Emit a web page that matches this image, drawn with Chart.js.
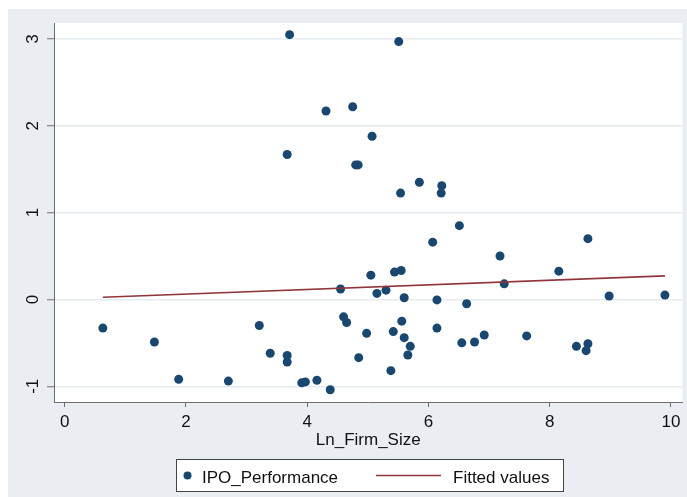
<!DOCTYPE html>
<html>
<head>
<meta charset="utf-8">
<script src="https://cdn.jsdelivr.net/npm/chart.js@4"></script>
<style>
html,body{margin:0;padding:0;background:#fff;}
canvas{display:block;}
</style>
</head>
<body>
<canvas id="c" width="687" height="497"></canvas>
<script>
// ---- data ----
const ipoX = [0.63,1.48,1.88,2.70,3.21,3.39,3.67,3.67,3.91,3.97,4.16,4.38,
  4.55,4.60,4.65,4.85,4.98,5.05,
  5.15,5.30,5.44,5.55,5.60,5.56,5.42,5.60,5.70,5.66,5.38,
  6.07,6.51,6.14,6.14,6.63,6.55,6.76,6.92,7.18,7.25,7.62,
  8.15,8.63,8.98,9.90,8.44,8.63,8.60,
  3.71,4.31,4.75,3.67,4.80,4.84,5.07,5.51,5.54,5.85,6.22,6.21];
const ipoY = [-0.33,-0.49,-0.92,-0.94,-0.30,-0.62,-0.645,-0.72,-0.96,-0.95,-0.93,-1.04,
  0.12,-0.20,-0.265,-0.67,-0.39,0.28,
  0.07,0.107,0.315,0.334,0.02,-0.25,-0.37,-0.44,-0.54,-0.64,-0.82,
  0.66,0.85,-0.005,-0.33,-0.05,-0.50,-0.49,-0.41,0.50,0.18,-0.42,
  0.326,0.70,0.04,0.05,-0.54,-0.51,-0.59,
  3.05,2.17,2.22,1.67,1.55,1.55,1.88,2.97,1.225,1.35,1.31,1.225];
const fittedX = [0.63, 9.90];
const fittedY = [0.026, 0.272];
const xTickValues = [0,2,4,6,8,10];
const yTickValues = [-1,0,1,2,3];
const xTitle = "Ln_Firm_Size";
const seriesNames = ["IPO_Performance", "Fitted values"];

const FONT = '"Liberation Sans", Arial, sans-serif';
const NAVY = '#1a476f';
const MAROON = '#90353b';

const bgPlugin = {
  id: 'bg',
  beforeDraw(chart) {
    const ctx = chart.ctx, a = chart.chartArea;
    ctx.save();
    ctx.fillStyle = '#ffffff';
    ctx.fillRect(0, 0, chart.width, chart.height);
    ctx.fillStyle = '#eaeef3';
    ctx.fillRect(8, 9, chart.width - 8, chart.height - 9);
    ctx.fillStyle = '#ffffff';
    ctx.fillRect(a.left, a.top, a.right - a.left, a.bottom - a.top);
    ctx.restore();
  },
  afterDraw(chart) {
    const ctx = chart.ctx, a = chart.chartArea;
    const ys = chart.scales.y;
    ctx.save();
    ctx.fillStyle = '#111';
    ctx.font = '17px ' + FONT;
    // rotated y tick labels
    ys.ticks.forEach(t => {
      const py = ys.getPixelForValue(t.value);
      ctx.save();
      ctx.translate(37.5, py);
      ctx.rotate(-Math.PI / 2);
      ctx.textAlign = 'center';
      ctx.textBaseline = 'alphabetic';
      ctx.fillText(t.label, 0, 0);
      ctx.restore();
    });
    // x title
    ctx.textAlign = 'center';
    ctx.textBaseline = 'alphabetic';
    ctx.fillText(xTitle, (a.left + a.right) / 2, 445);
    // legend
    const lx = 176, ly = 459, lw = 387, lh = 32;
    ctx.fillStyle = '#ffffff';
    ctx.fillRect(lx, ly, lw, lh);
    ctx.strokeStyle = '#444';
    ctx.lineWidth = 1;
    ctx.strokeRect(lx + 0.5, ly + 0.5, lw, lh);
    const my = 475.5;
    ctx.fillStyle = NAVY;
    ctx.beginPath();
    ctx.arc(187.5, my, 4, 0, Math.PI * 2);
    ctx.fill();
    ctx.strokeStyle = MAROON;
    ctx.lineWidth = 1.6;
    ctx.beginPath();
    ctx.moveTo(376, my);
    ctx.lineTo(441, my);
    ctx.stroke();
    ctx.fillStyle = '#111';
    ctx.textAlign = 'left';
    ctx.fillText(seriesNames[0], 202, 482.5);
    ctx.fillText(seriesNames[1], 453, 482.5);
    ctx.restore();
  }
};

new Chart(document.getElementById('c'), {
  type: 'scatter',
  data: {
    datasets: [
      {
        label: seriesNames[0],
        data: ipoX.map((x, i) => ({x: x, y: ipoY[i]})),
        backgroundColor: NAVY,
        borderColor: NAVY,
        pointRadius: 4.5,
        pointBorderWidth: 0,
        showLine: false,
        order: 2
      },
      {
        label: seriesNames[1],
        data: fittedX.map((x, i) => ({x: x, y: fittedY[i]})),
        borderColor: MAROON,
        backgroundColor: MAROON,
        borderWidth: 1.6,
        pointRadius: 0,
        showLine: true,
        order: 1
      }
    ]
  },
  options: {
    responsive: false,
    animation: false,
    events: [],
    layout: { padding: { left: 0, top: 23, right: 1, bottom: 0 } },
    plugins: { legend: { display: false }, tooltip: { enabled: false } },
    scales: {
      x: {
        type: 'linear',
        min: -0.176,
        max: 10.19,
        afterBuildTicks(s) { s.ticks = xTickValues.map(v => ({value: v})); },
        afterFit(s) { s.height = 95; },
        border: { display: true, color: '#6e6e6e', width: 1 },
        grid: { drawOnChartArea: false, drawTicks: true, tickLength: 5, tickColor: '#6e6e6e', tickWidth: 1 },
        ticks: {
          callback: v => String(v),
          color: '#111',
          padding: 5,
          maxRotation: 0,
          autoSkip: false,
          font: { family: FONT, size: 17 }
        }
      },
      y: {
        type: 'linear',
        min: -1.181,
        max: 3.184,
        afterBuildTicks(s) { s.ticks = yTickValues.map(v => ({value: v})); },
        afterFit(s) { s.width = 54; },
        border: { display: true, color: '#6e6e6e', width: 1 },
        grid: { color: '#e6ecf1', lineWidth: 1.5, drawTicks: true, tickLength: 7, tickColor: '#6e6e6e', tickWidth: 1 },
        ticks: {
          callback: v => String(v),
          color: 'rgba(0,0,0,0)',
          font: { family: FONT, size: 17 }
        }
      }
    }
  },
  plugins: [bgPlugin]
});
</script>
</body>
</html>
